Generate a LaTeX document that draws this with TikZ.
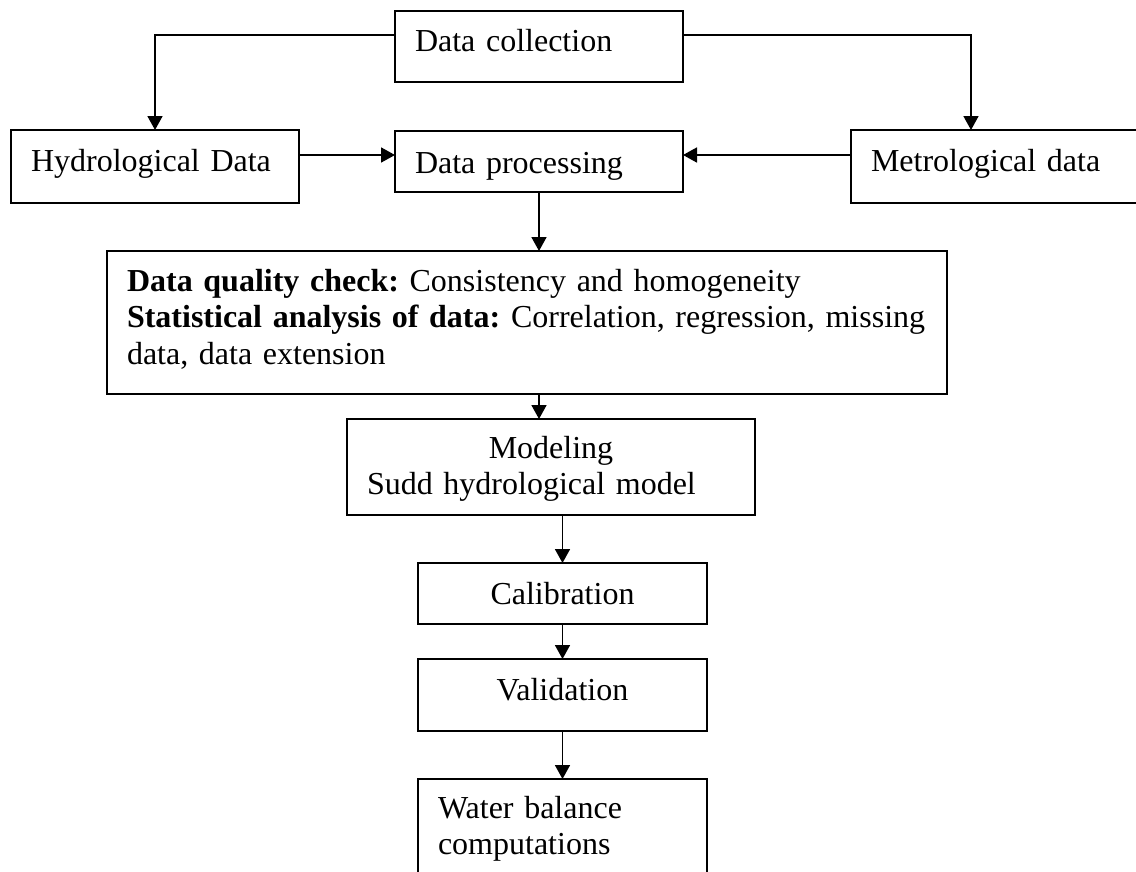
\documentclass[tikz,border=0pt]{standalone}
\usepackage{fontspec}
\setmainfont{Liberation Serif}
\usepackage{tikz}
\usetikzlibrary{arrows.meta}
\usetikzlibrary{positioning}
\tikzset{
    flowbox/.style={ % Plain boxes of the chart
        draw,
        rectangle,
        line width=2.2pt,
        outer sep=0pt,
        inner xsep=20pt,
        inner ysep=0pt,
        anchor=north west,
        align=left,
        text depth=0pt,
        font=\fontsize{32pt}{36.5pt}\selectfont
    },
    link/.style={ % Arrows between the boxes
        draw,
        -{Triangle[length=14pt,width=15pt]},
        line width=1.7pt
    }
}

\begin{document}
\frenchspacing
\hyphenpenalty=10000
\begin{tikzpicture}[x=1pt,y=-1pt]
    \useasboundingbox (0,0) rectangle (1136,871);

    \node[flowbox, text width=248pt, minimum height=71pt, text height=9pt] (dc) at (395,11) {Data collection};
    \node[flowbox, text width=248pt, minimum height=73pt, text height=9pt] (hyd) at (11,130) {Hydrological Data};
    \node[flowbox, text width=248pt, minimum height=61pt, text height=23pt] (dp) at (395,131) {Data processing};
    \node[flowbox, text width=259pt, minimum height=73pt, text height=9pt] (met) at (851,130) {Metrological data};

    \node[flowbox, text width=800pt, minimum height=143pt, text height=10pt, text depth=73pt] (qc) at (107,251)
        {\textbf{Data quality check:} Consistency and homogeneity\\
         \textbf{Statistical analysis of data:} Correlation, regression, missing\\
         data, data extension};
    \node[flowbox, text width=368pt, minimum height=96pt, text height=19pt, text depth=37pt] (model) at (347,419)
        {\makebox[\hsize]{Modeling}\\Sudd hydrological model};
    \node[flowbox, align=center, text width=249pt, minimum height=61pt, text height=21pt] (calib) at (418,563) {Calibration};
    \node[flowbox, align=center, text width=249pt, minimum height=72pt, text height=10pt] (valid) at (418,659) {Validation};
    \node[flowbox, text width=249pt, minimum height=95pt, text height=20pt, text depth=37pt] (water) at (418,779)
        {Water balance\\computations};

    \coordinate (dcleft) at ([yshift=11.5pt]dc.west);
    \coordinate (dcright) at ([yshift=11.5pt]dc.east);
    \coordinate (hydout) at ([yshift=11.5pt]hyd.east);
    \coordinate (metout) at ([yshift=11.5pt]met.west);

    \draw[link] (dcleft) -| (hyd.north);
    \draw[link] (dcright) -| ([xshift=120pt]met.north west);
    \draw[link] (hydout) -- (hydout -| dp.west);
    \draw[link] (metout) -- (metout -| dp.east);
    \draw[link] (dp.south) -- (dp.south |- qc.north);
    \draw[link] (dp.south |- qc.south) -- (dp.south |- model.north);
    \draw[link] (calib.north |- model.south) -- (calib.north);
    \draw[link] (calib) -- (valid);
    \draw[link] (valid) -- (water);
\end{tikzpicture}
\end{document}
